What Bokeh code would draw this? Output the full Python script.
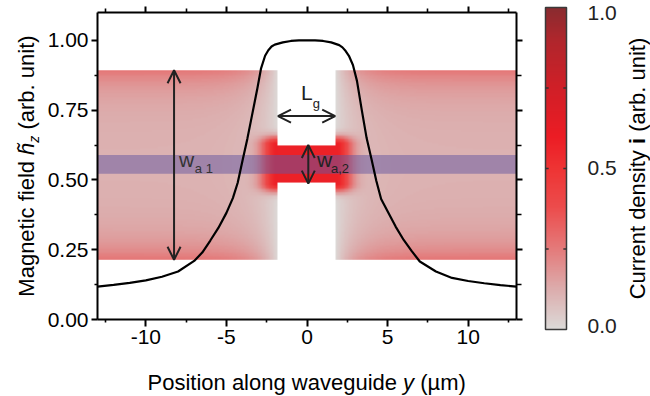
import numpy as np
from bokeh.plotting import figure
from bokeh.models import (Range1d, LinearAxis, FixedTicker, Label, Arrow, OpenHead,
                          LinearColorMapper, PrintfTickFormatter)
from bokeh.layouts import row, column
from bokeh.embed import file_html
from bokeh.resources import INLINE

FONT = "Liberation Sans"
INK = "#222222"

# ---------------- data ----------------
y_pos = [-13, -12, -11, -10, -9, -8, -7, -6.5, -6, -5.5, -5, -4.6, -4.3, -4.0, -3.7, -3.4,
         -3.1, -2.85, -2.6, -2.4, -2.2, -2.0, -1.5, -1.0, -0.5, 0, 0.5, 1.0, 1.5, 2.0, 2.2,
         2.4, 2.6, 2.85, 3.1, 3.4, 3.7, 4.0, 4.3, 4.6, 5.0, 5.5, 6.0, 6.5, 7.0, 8.0, 9.0,
         10, 11, 12, 13]
hz = [0.118, 0.124, 0.131, 0.140, 0.153, 0.172, 0.210, 0.240, 0.283, 0.328, 0.382, 0.435,
      0.490, 0.570, 0.648, 0.735, 0.822, 0.900, 0.945, 0.965, 0.978, 0.985, 0.993, 0.998,
      1.000, 1.000, 1.000, 0.998, 0.993, 0.983, 0.975, 0.962, 0.945, 0.912, 0.855, 0.750,
      0.650, 0.575, 0.497, 0.432, 0.388, 0.333, 0.285, 0.245, 0.208, 0.172, 0.149, 0.138,
      0.130, 0.123, 0.118]

x_ticks = [-10, -5, 0, 5, 10]
x_minor = [-12.5, -7.5, -2.5, 2.5, 7.5, 12.5]
y_ticks = [0.0, 0.25, 0.5, 0.75, 1.0]
y_minor = [0.125, 0.375, 0.625, 0.875]

# conductor geometry
strip_x = [-13.0, 13.0]
strip_y = [0.214, 0.893]
gap_x = [-1.8, 1.75]
bridge_y = [0.487, 0.625]
band_y = [0.522, 0.589]

# current-density levels
edge_level = 0.27
center_level = 0.11
bridge_level = 0.58

# dimension arrows
wa1_x = -8.25
lg_y = 0.729
wa2_x = 0.08

# colour bar
cbar_ticks = [0.0, 0.5, 1.0]
cbar_marks = [0.25, 0.5, 0.75]
cmap_pos = [0.0, 0.12, 0.25, 0.38, 0.5, 0.6, 0.75, 0.9, 1.0]
cmap_col = ["#dcdad8", "#dcaeae", "#e47a7a", "#ec4c4c", "#ee3434", "#ec1c24",
            "#d01f27", "#b0262c", "#8a2b2f"]

# ---------------- palette ----------------
def h2rgb(h):
    return [int(h[i:i + 2], 16) for i in (1, 3, 5)]

rgb = np.array([h2rgb(c) for c in cmap_col], dtype=float)
tt = np.linspace(0, 1, 256)
palette = []
for t in tt:
    r, g, b = (int(round(np.interp(t, cmap_pos, rgb[:, k]))) for k in range(3))
    palette.append("#%02x%02x%02x" % (r, g, b))
mapper = LinearColorMapper(palette=palette, low=0, high=1, nan_color=(0, 0, 0, 0))

# ---------------- current density field ----------------
nx, ny = 520, 136
xs = np.linspace(strip_x[0], strip_x[1], nx + 1)
xs = 0.5 * (xs[1:] + xs[:-1])
ys = np.linspace(strip_y[0], strip_y[1], ny + 1)
ys = 0.5 * (ys[1:] + ys[:-1])
X, Y = np.meshgrid(xs, ys)
outer = (X <= gap_x[0]) | (X >= gap_x[1])
bridge = (~outer) & (Y >= bridge_y[0]) & (Y <= bridge_y[1])
d_top = strip_y[1] - Y
d_bot = Y - strip_y[0]
base = center_level + (edge_level - center_level) * (np.exp(-d_top / 0.07) + np.exp(-d_bot / 0.07))
gd = np.where(X < 0, gap_x[0] - X, X - gap_x[1])
gd = np.clip(gd, 0, None)
fade = 1 - np.exp(-gd / 1.25)
ddy = np.maximum(0, np.maximum(bridge_y[0] - Y, Y - bridge_y[1])) / 0.03
ddx = gd / 1.0
blob = bridge_level * np.exp(-(ddx ** 2 + ddy ** 2))
field = np.full(X.shape, np.nan)
field[outer] = np.clip(base * fade + blob, 0, 1)[outer]
field[bridge] = bridge_level

# ---------------- main figure ----------------
p = figure(width=486, height=360, x_range=Range1d(-13, 13), y_range=Range1d(0, 1.10),
           output_backend="svg", toolbar_location=None,
           min_border_left=55, min_border_right=12, min_border_top=12, min_border_bottom=41)
p.xgrid.visible = False
p.ygrid.visible = False
p.outline_line_color = None


def style_axis(ax, ticks, minor, labels=True, out=6, mout=3):
    ax.ticker = FixedTicker(ticks=ticks, minor_ticks=minor)
    ax.axis_line_width = 2
    ax.axis_line_color = "black"
    ax.major_tick_line_width = 2
    ax.minor_tick_line_width = 1.6
    ax.major_tick_line_color = "black"
    ax.minor_tick_line_color = "black"
    ax.major_tick_out = out
    ax.major_tick_in = 0
    ax.minor_tick_out = mout
    ax.minor_tick_in = 0
    ax.axis_label = None
    if labels:
        ax.major_label_text_font = FONT
        ax.major_label_text_font_size = "21px"
        ax.major_label_text_color = "black"
        ax.major_label_standoff = 3
    else:
        ax.major_label_text_font_size = "0px"
        ax.major_label_text_color = None
        ax.major_label_standoff = 0


style_axis(p.xaxis[0], x_ticks, x_minor, True, 7, 3)
p.xaxis[0].major_label_overrides = {t: ("%d" % t) for t in x_ticks}
style_axis(p.yaxis[0], y_ticks, y_minor, True, 6, 3)
p.yaxis[0].formatter = PrintfTickFormatter(format="%.2f")
top_ax = LinearAxis()
style_axis(top_ax, x_ticks, x_minor, False, 6, 4)
p.add_layout(top_ax, "above")
right_ax = LinearAxis()
style_axis(right_ax, y_ticks, y_minor, False, 6, 5)
p.add_layout(right_ax, "right")

p.image(image=[field], x=strip_x[0], y=strip_y[0], dw=strip_x[1] - strip_x[0],
        dh=strip_y[1] - strip_y[0], color_mapper=mapper)
p.quad(left=[strip_x[0]], right=[strip_x[1]], bottom=[band_y[0]], top=[band_y[1]],
       fill_color="#6455a0", fill_alpha=0.5, line_color=None)
p.line(y_pos, hz, line_color="black", line_width=2.2)


def dbl_arrow(x0, y0, x1, y1):
    p.add_layout(Arrow(start=OpenHead(size=13, line_width=2, line_color=INK),
                       end=OpenHead(size=13, line_width=2, line_color=INK),
                       x_start=x0, y_start=y0, x_end=x1, y_end=y1,
                       line_width=2, line_color=INK))


dbl_arrow(wa1_x, strip_y[1], wa1_x, strip_y[0])
dbl_arrow(gap_x[0], lg_y, gap_x[1], lg_y)
dbl_arrow(wa2_x, bridge_y[1], wa2_x, bridge_y[0])


def lab(fig, x, y, text, size, **kw):
    fig.add_layout(Label(x=x, y=y, text=text, text_font=FONT, text_font_size=size,
                         text_color=kw.pop("color", INK), **kw))


lab(p, -7.95, 0.532, "w", "21px", color="#333333")
lab(p, -6.96, 0.514, "a 1", "13px", color="#333333")
lab(p, -0.37, 0.771, "L", "21px")
lab(p, 0.35, 0.746, "g", "13px")
lab(p, 0.62, 0.532, "w", "21px")
lab(p, 1.49, 0.514, "a,2", "13px")


# ---------------- helper for text panels (frame = whole panel, page-pixel ranges) ----
def panel(w, h, x0, y0):
    f = figure(width=w, height=h, x_range=Range1d(x0, x0 + w), y_range=Range1d(y0 + h, y0),
               output_backend="svg", toolbar_location=None, min_border=0,
               x_axis_location=None, y_axis_location=None)
    f.xgrid.visible = False
    f.ygrid.visible = False
    f.outline_line_color = None
    return f


rot = dict(angle=90, angle_units="deg", color="black", text_align="center",
           text_baseline="middle")

# y-axis title (pieces centred on their own extent)
yt = panel(42, 360, 0, 0)
lab(yt, 25.5, 228.3, "Magnetic field", "22px", **rot)
lab(yt, 25.5, 148.3, "h\u0303", "22px", text_font_style="italic", **rot)
lab(yt, 33.5, 138.7, "z", "14px", text_font_style="italic", **rot)
lab(yt, 25.5, 82.0, "(arb. unit)", "22px", **rot)

# x-axis title
xt = panel(650, 36, 0, 360)
lab(xt, 147, 382, "Position along waveguide", "22px", color="black",
    text_baseline="alphabetic")
lab(xt, 402.6, 382, "y", "22px", text_font_style="italic", color="black",
    text_baseline="alphabetic")
lab(xt, 419.7, 382, "(µm)", "22px", color="black", text_baseline="alphabetic")

# ---------------- colour bar panel ----------------
bar_px = 21.0
c = figure(width=122, height=360,
           x_range=Range1d(-17 / bar_px, 105 / bar_px),
           y_range=Range1d(-31 / 322.0, 1 + 7 / 322.0),
           output_backend="svg", toolbar_location=None, min_border=0,
           x_axis_location=None, y_axis_location=None)
c.xgrid.visible = False
c.ygrid.visible = False
c.outline_line_color = None
lo, hi = min(cbar_ticks), max(cbar_ticks)
c.image(image=[np.array(tt).reshape(-1, 1)], x=0, y=lo, dw=1, dh=hi - lo, color_mapper=mapper)
c.quad(left=[0], right=[1], bottom=[lo], top=[hi], fill_color=None,
       line_color="#3a3a3a", line_width=1.5)
n = len(cbar_marks)
c.segment(x0=[0] * n, x1=[0.15] * n, y0=cbar_marks, y1=cbar_marks,
          line_color="#333333", line_width=1.5)
c.segment(x0=[0.85] * n, x1=[1] * n, y0=cbar_marks, y1=cbar_marks,
          line_color="#333333", line_width=1.5)
offs = {0.0: 4, 0.5: 1, 1.0: -5}
for v in cbar_ticks:
    c.add_layout(Label(x=2.0, y=v, text="%.1f" % v, text_font=FONT,
                       text_font_size="21px", text_color="#222222", text_baseline="middle",
                       y_offset=offs[v]))


def cy(page_y):
    return (329 - page_y) / 322.0


cbx = (636.5 - 545) / bar_px
lab(c, cbx, cy(224.25), "Current density", "22px", **rot)
lab(c, cbx, cy(140.5), "i", "22px", text_font_style="bold", **rot)
lab(c, cbx, cy(84.3), "(arb. unit)", "22px", **rot)

for f in (p, yt, xt, c):
    try:
        f.frame_align = False
    except Exception:
        pass

layout = column(row(yt, p, c), xt)
open("out.html", "w").write(file_html(layout, INLINE))
